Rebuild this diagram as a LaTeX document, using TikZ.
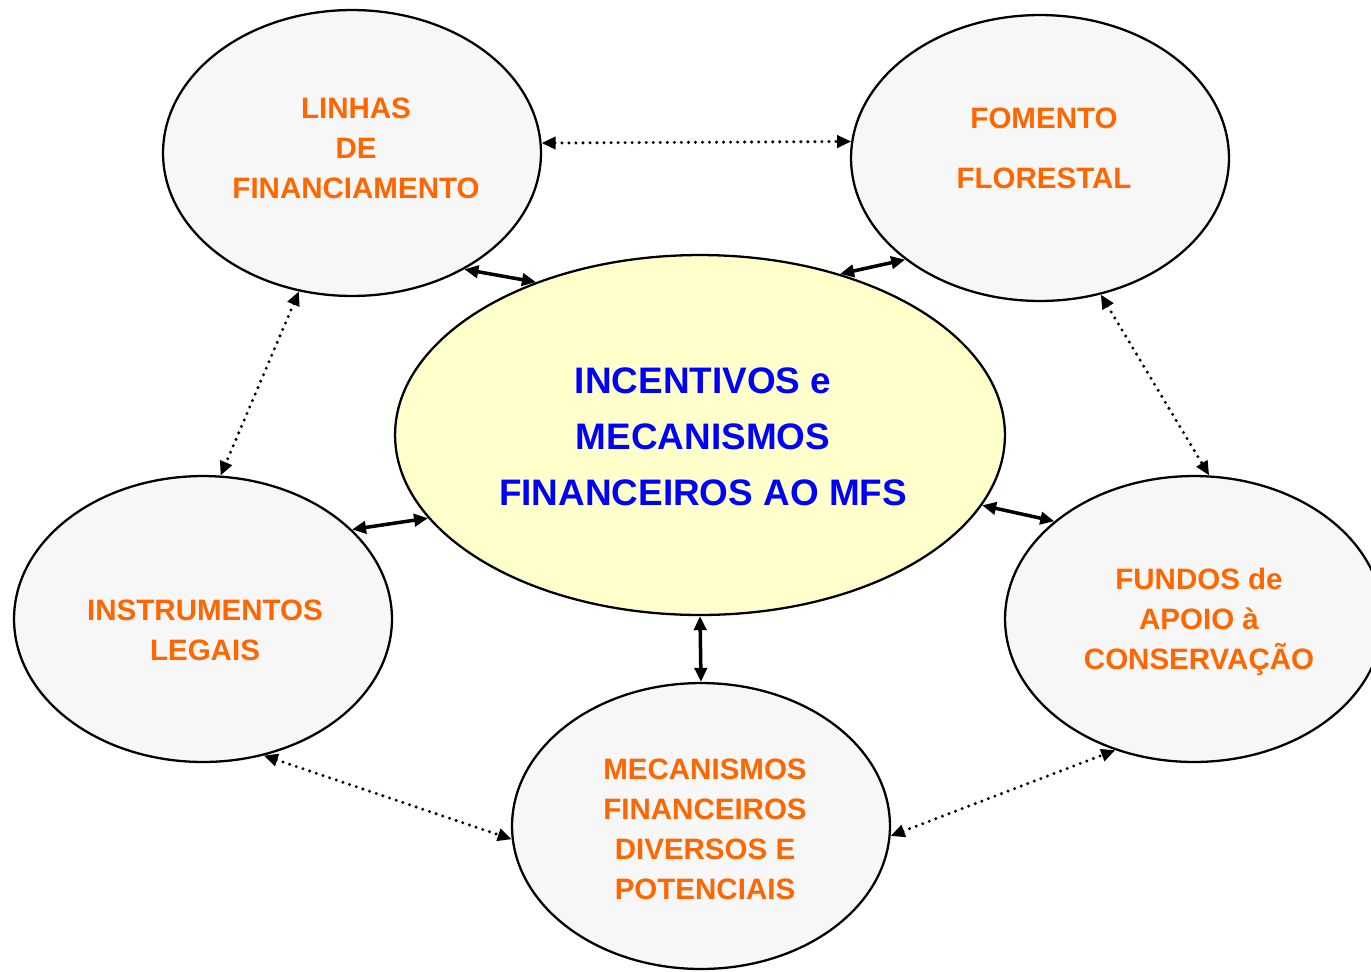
\documentclass[tikz,border=0pt]{standalone}
\usepackage{fontspec}
\setmainfont{Liberation Sans}
\usetikzlibrary{arrows.meta,shapes.geometric}
\definecolor{orangetxt}{HTML}{FF6600}
\definecolor{bluetxt}{HTML}{0000FF}
\definecolor{grayfill}{HTML}{F7F7F7}
\definecolor{yellowfill}{HTML}{FFFFCC}
\tikzset{
  outer/.style={ellipse, draw=black, line width=1.3pt, fill=grayfill, inner sep=0pt,
    minimum width=7.56cm, minimum height=5.72cm},
  inner/.style={ellipse, draw=black, line width=1.3pt, fill=yellowfill, inner sep=0pt,
    minimum width=12.2cm, minimum height=7.2cm},
  otext/.style={align=center, text=orangetxt, font=\fontsize{16.8}{22.7}\selectfont\bfseries, inner sep=0pt},
  btext/.style={align=center, text=bluetxt, font=\fontsize{21}{31.75}\selectfont\bfseries, inner sep=0pt},
  solidlink/.style={line width=2pt, {Triangle[length=8pt,width=7pt]}-{Triangle[length=8pt,width=7pt]}},
  dotlink/.style={line width=1.9pt, line cap=round, dash pattern=on 0pt off 4pt,
    {Triangle[length=8pt,width=7pt]}-{Triangle[length=8pt,width=7pt]}}
}
\begin{document}
\begin{tikzpicture}[x=0.02cm, y=-0.02cm]
\useasboundingbox (0,0) rectangle (1371,971);
% ellipses
\node[outer] (lin) at (352,153) {};
\node[outer] (fom) at (1040,158) {};
\node[inner] (ctr) at (700,435) {};
\node[outer] (ins) at (203,619) {};
\node[outer] (fun) at (1194,619) {};
\node[outer] (mec) at (701,826) {};
% texts
\node[otext] (linT) at (356,148) {LINHAS\\DE\\FINANCIAMENTO};
\node[otext] (fomT) at (1044,148) {FOMENTO\\[11.3pt]FLORESTAL};
\node[btext] (ctrT) at (703,437) {INCENTIVOS e\\MECANISMOS\\FINANCEIROS AO MFS};
\node[otext] (insT) at (205,630) {INSTRUMENTOS\\LEGAIS};
\node[otext] (funT) at (1199,622) {FUNDOS de\\APOIO à\\CONSERVAÇÃO};
\node[otext] (mecT) at (705,829) {MECANISMOS\\FINANCEIROS\\DIVERSOS E\\POTENCIAIS};
% connectors
\draw[dotlink] (lin.3) -- (fom.175.5);
\draw[solidlink] (lin.-46) -- (ctr.137);
\draw[solidlink] (fom.-143.2) -- (ctr.49);
\draw[dotlink] (lin.-111.3) -- (ins.83.5);
\draw[dotlink] (fom.-66.8) -- (fun.84);
\draw[solidlink] (ins.31.2) -- (ctr.-163.9);
\draw[solidlink] (ctr.-14.3) -- (fun.145.8);
\draw[solidlink] (ctr.-90) -- (mec.90);
\draw[dotlink] (ins.-66.7) -- (mec.-176.3);
\draw[dotlink] (mec.-3.7) -- (fun.-121.7);
\end{tikzpicture}
\end{document}
